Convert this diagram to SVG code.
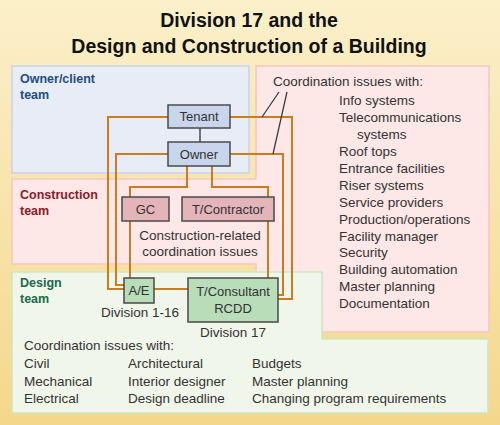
<svg xmlns="http://www.w3.org/2000/svg" width="500" height="425" viewBox="0 0 500 425">
  <defs>
    <linearGradient id="bg" x1="0" y1="0" x2="0" y2="1">
      <stop offset="0" stop-color="#fbf0ca"/>
      <stop offset="1" stop-color="#f4d78b"/>
    </linearGradient>
    <style>
      text { font-family: "Liberation Sans", Arial, sans-serif; fill: #333; }
      .title { font-size: 19.5px; font-weight: bold; fill: #111; text-anchor: middle; }
      .team { font-size: 12.5px; font-weight: bold; }
      .body { font-size: 13.5px; }
      .nodeText { font-size: 13px; text-anchor: middle; fill: #333; }
      .ctr { text-anchor: middle; }
      .node { stroke: #4a4a4a; stroke-width: 1.5; }
      .conn { fill: none; stroke: #c97d22; stroke-width: 2; }
      .callout { fill: none; stroke: #333; stroke-width: 1.2; }
    </style>
  </defs>

  <rect x="0" y="0" width="500" height="425" fill="url(#bg)"/>

  <g id="title">
    <text class="title" x="249" y="27">Division 17 and the</text>
    <text class="title" x="249" y="53">Design and Construction of a Building</text>
  </g>

  <!-- Panels -->
  <g id="panels">
    <rect id="owner-panel" x="12" y="66" width="237" height="107" fill="#e8ecf6" stroke="#c7d3ea" stroke-width="1.5"/>
    <path id="construction-panel" d="M256,66 H489 V332 H256 V264 H12 V179 H256 Z" fill="#fde7e7" stroke="#f6c6c2" stroke-width="1.5"/>
    <path id="design-panel" d="M12,272 H322 V339 H488 V413 H12 Z" fill="#f1f6ea" stroke="#cde6c0" stroke-width="1.5"/>
  </g>

  <g id="team-labels">
    <text class="team" x="20" y="83" style="fill:#1f4f7f">Owner/client</text>
    <text class="team" x="20" y="99" style="fill:#1f4f7f">team</text>
    <text class="team" x="20" y="199" style="fill:#8b1a2a">Construction</text>
    <text class="team" x="20" y="215" style="fill:#8b1a2a">team</text>
    <text class="team" x="20" y="287" style="fill:#1a6b4a">Design</text>
    <text class="team" x="20" y="303" style="fill:#1a6b4a">team</text>
  </g>

  <!-- Connectors -->
  <g id="connectors">
    <line x1="200" y1="128" x2="200" y2="142" stroke="#4a4a4a" stroke-width="1.5"/>
    <path class="conn" d="M168,117 H108 V289 H124"/>
    <path class="conn" d="M168,154 H116 V285 H124"/>
    <path class="conn" d="M230,117 H292 V299 H278"/>
    <path class="conn" d="M230,154 H283 V295 H278"/>
    <path class="conn" d="M187,166 V187 H130 V197"/>
    <path class="conn" d="M212,166 V187 H268 V197"/>
    <path class="conn" d="M130,221 V278"/>
    <path class="conn" d="M268,221 V278"/>
    <path class="conn" d="M154,289 H188"/>
    <path class="callout" d="M279,92 L262,117"/>
    <path class="callout" d="M287,92 L273,154"/>
  </g>

  <!-- Nodes -->
  <g id="tenant">
    <rect class="node" x="168" y="105" width="62" height="23" fill="#c9d5ea"/>
    <text class="nodeText" x="199" y="121">Tenant</text>
  </g>
  <g id="owner">
    <rect class="node" x="168" y="142" width="62" height="24" fill="#c9d5ea"/>
    <text class="nodeText" x="199" y="159">Owner</text>
  </g>
  <g id="gc">
    <rect class="node" x="122" y="197" width="47" height="24" fill="#e3b5b9"/>
    <text class="nodeText" x="145.5" y="214">GC</text>
  </g>
  <g id="t-contractor">
    <rect class="node" x="182" y="197" width="92" height="24" fill="#e3b5b9"/>
    <text class="nodeText" x="228" y="214">T/Contractor</text>
  </g>
  <g id="ae">
    <rect class="node" x="124" y="278" width="30" height="25" fill="#b9dcb9"/>
    <text class="nodeText" x="139" y="295">A/E</text>
  </g>
  <g id="t-consultant">
    <rect class="node" x="188" y="278" width="90" height="44" fill="#b9dcb9"/>
    <text class="nodeText" x="233" y="296">T/Consultant</text>
    <text class="nodeText" x="233" y="313">RCDD</text>
  </g>

  <g id="labels">
    <text class="body ctr" x="200" y="240">Construction-related</text>
    <text class="body ctr" x="200" y="256">coordination issues</text>
    <text class="body ctr" x="140" y="317">Division 1-16</text>
    <text class="body ctr" x="233" y="337">Division 17</text>
  </g>

  <g id="owner-issues">
    <text class="body" x="273" y="86">Coordination issues with:</text>
    <text class="body" x="339" y="105">Info systems</text>
    <text class="body" x="339" y="122">Telecommunications</text>
    <text class="body" x="357" y="139">systems</text>
    <text class="body" x="339" y="156">Roof tops</text>
    <text class="body" x="339" y="173">Entrance facilities</text>
    <text class="body" x="339" y="190">Riser systems</text>
    <text class="body" x="339" y="207">Service providers</text>
    <text class="body" x="339" y="224">Production/operations</text>
    <text class="body" x="339" y="241">Facility manager</text>
    <text class="body" x="339" y="257">Security</text>
    <text class="body" x="339" y="274">Building automation</text>
    <text class="body" x="339" y="291">Master planning</text>
    <text class="body" x="339" y="308">Documentation</text>
  </g>

  <g id="design-issues">
    <text class="body" x="24" y="350">Coordination issues with:</text>
    <text class="body" x="24" y="368">Civil</text>
    <text class="body" x="24" y="386">Mechanical</text>
    <text class="body" x="24" y="403">Electrical</text>
    <text class="body" x="128" y="368">Architectural</text>
    <text class="body" x="128" y="386">Interior designer</text>
    <text class="body" x="128" y="403">Design deadline</text>
    <text class="body" x="252" y="368">Budgets</text>
    <text class="body" x="252" y="386">Master planning</text>
    <text class="body" x="252" y="403">Changing program requirements</text>
  </g>
</svg>
